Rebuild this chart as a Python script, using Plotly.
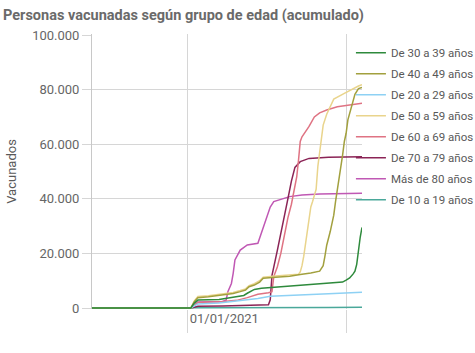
import plotly.graph_objects as go

# ---------------- data ----------------
fechas_30_39 = ["2020-11-08", "2021-01-03", "2021-01-05", "2021-01-07", "2021-01-19", "2021-01-24",
                "2021-01-29", "2021-02-02", "2021-02-04", "2021-02-06", "2021-02-08", "2021-02-12",
                "2021-02-20", "2021-02-26", "2021-03-04", "2021-03-12", "2021-03-22", "2021-03-30",
                "2021-04-01", "2021-04-03", "2021-04-05", "2021-04-06", "2021-04-07", "2021-04-08",
                "2021-04-09", "2021-04-10"]
vac_30_39 = [0, 0, 1800, 2900, 3100, 3600, 4000, 4600, 5400, 6000, 6800, 7200, 7600, 7800, 8200,
             8600, 9100, 9500, 10200, 11000, 12500, 13500, 16000, 22000, 26000, 29500]

fechas_40_49 = ["2020-11-08", "2021-01-03", "2021-01-05", "2021-01-07", "2021-01-13", "2021-01-19",
                "2021-01-23", "2021-01-27", "2021-01-31", "2021-02-03", "2021-02-05", "2021-02-08",
                "2021-02-11", "2021-02-13", "2021-02-20", "2021-02-28", "2021-03-06", "2021-03-12",
                "2021-03-17", "2021-03-19", "2021-03-20", "2021-03-21", "2021-03-23", "2021-03-25",
                "2021-03-26", "2021-03-28", "2021-03-29", "2021-03-30", "2021-03-31", "2021-04-01",
                "2021-04-02", "2021-04-04", "2021-04-06", "2021-04-08", "2021-04-10"]
vac_40_49 = [0, 0, 2300, 3800, 4100, 4500, 4900, 5300, 6000, 6600, 7800, 8400, 9500, 10900, 11300,
             11600, 12300, 12800, 13500, 15500, 19000, 23000, 28000, 34000, 39000, 47000, 51000,
             56000, 61000, 64000, 68900, 74000, 78300, 80400, 80800]

fechas_20_29 = ["2020-11-08", "2021-01-03", "2021-01-05", "2021-01-07", "2021-01-19", "2021-01-31",
                "2021-02-10", "2021-02-17", "2021-03-04", "2021-03-22", "2021-04-10"]
vac_20_29 = [0, 0, 800, 1500, 1800, 2600, 3500, 4300, 4600, 5200, 5800]

fechas_50_59 = ["2020-11-08", "2021-01-03", "2021-01-05", "2021-01-07", "2021-01-13", "2021-01-19",
                "2021-01-23", "2021-01-27", "2021-01-31", "2021-02-03", "2021-02-05", "2021-02-08",
                "2021-02-11", "2021-02-13", "2021-02-20", "2021-02-28", "2021-03-05", "2021-03-06",
                "2021-03-07", "2021-03-08", "2021-03-10", "2021-03-12", "2021-03-13", "2021-03-15",
                "2021-03-16", "2021-03-18", "2021-03-19", "2021-03-21", "2021-03-22", "2021-03-25",
                "2021-03-31", "2021-04-04", "2021-04-08", "2021-04-10"]
vac_50_59 = [0, 0, 2600, 4200, 4500, 4900, 5300, 5700, 6400, 7000, 8200, 8900, 10000, 11300, 11700,
             12000, 12400, 13200, 15500, 19000, 28500, 37000, 39000, 43500, 52000, 62500, 67000,
             71000, 72500, 76500, 78600, 80100, 81300, 81800]

fechas_60_69 = ["2020-11-08", "2021-01-03", "2021-01-05", "2021-01-07", "2021-01-20", "2021-01-29",
                "2021-02-04", "2021-02-10", "2021-02-16", "2021-02-18", "2021-02-19", "2021-02-21",
                "2021-02-23", "2021-02-25", "2021-02-27", "2021-03-01", "2021-03-02", "2021-03-04",
                "2021-03-05", "2021-03-06", "2021-03-07", "2021-03-09", "2021-03-11", "2021-03-14",
                "2021-03-17", "2021-03-21", "2021-03-27", "2021-04-10"]
vac_60_69 = [0, 0, 1000, 2000, 2300, 2800, 3800, 5000, 5600, 6000, 11500, 15000, 20000, 27000,
             33000, 38000, 41000, 48000, 54000, 61000, 62700, 64500, 66500, 70000, 71500, 72500,
             73700, 75000]

fechas_70_79 = ["2020-11-08", "2021-01-03", "2021-01-05", "2021-01-07", "2021-01-21", "2021-01-31",
                "2021-02-10", "2021-02-16", "2021-02-17", "2021-02-18", "2021-02-21", "2021-02-24",
                "2021-02-25", "2021-02-26", "2021-02-27", "2021-03-01", "2021-03-03", "2021-03-06",
                "2021-03-11", "2021-03-22", "2021-04-10"]
vac_70_79 = [0, 0, 300, 600, 700, 900, 1100, 1200, 3000, 12000, 21000, 30000, 33000, 37000, 40000,
             46500, 51500, 53600, 54800, 55200, 55400]

fechas_80 = ["2020-11-08", "2021-01-03", "2021-01-05", "2021-01-07", "2021-01-21", "2021-01-23",
             "2021-01-24", "2021-01-26", "2021-01-27", "2021-01-28", "2021-01-31", "2021-02-04",
             "2021-02-10", "2021-02-11", "2021-02-12", "2021-02-14", "2021-02-16", "2021-02-17",
             "2021-02-19", "2021-02-23", "2021-02-28", "2021-03-07", "2021-03-17", "2021-04-10"]
vac_80 = [0, 0, 1000, 2200, 2400, 2900, 6000, 9000, 12700, 17600, 21200, 23100, 23700, 25500,
          27500, 31000, 34700, 37000, 39000, 39800, 40800, 41400, 41800, 42000]

fechas_10_19 = ["2020-11-08", "2021-01-03", "2021-01-07", "2021-02-10", "2021-03-22", "2021-04-10"]
vac_10_19 = [0, 0, 50, 100, 200, 300]

series = [
    ("De 30 a 39 años", fechas_30_39, vac_30_39, "#2e8a3c"),
    ("De 40 a 49 años", fechas_40_49, vac_40_49, "#a2a03e"),
    ("De 20 a 29 años", fechas_20_29, vac_20_29, "#8ed1f4"),
    ("De 50 a 59 años", fechas_50_59, vac_50_59, "#e9d48c"),
    ("De 60 a 69 años", fechas_60_69, vac_60_69, "#df7383"),
    ("De 70 a 79 años", fechas_70_79, vac_70_79, "#8b2456"),
    ("Más de 80 años", fechas_80, vac_80, "#c058b4"),
    ("De 10 a 19 años", fechas_10_19, vac_10_19, "#4aa89a"),
]

y_ticks = [0, 20000, 40000, 60000, 80000, 100000]
y_labels = ["0", "20.000", "40.000", "60.000", "80.000", "100.000"]
x_ticks = ["2021-01-01", "2021-04-01"]
x_labels = ["01/01/2021", ""]

# ---------------- figure ----------------
fig = go.Figure()
# drawn in reverse so the first series sits on top; legend order set with legendrank
n = len(series)
for i in range(n - 1, -1, -1):
    name, x, y, color = series[i]
    fig.add_trace(go.Scatter(x=x, y=y, mode="lines", name=name, legendgroup=name,
                             legendrank=i + 1, line=dict(color=color, width=1.5)))

grid = "#d6d6d6"
font_fam = "Roboto, Liberation Sans, sans-serif"

fig.update_layout(
    width=475, height=353,
    margin=dict(l=92, r=113, t=34, b=44, autoexpand=False),
    paper_bgcolor="white", plot_bgcolor="white",
    font=dict(family=font_fam, size=13, color="#595959"),
    title=dict(text="<b>Personas vacunadas según grupo de edad (acumulado)</b>",
               x=3 / 475, xanchor="left", xref="container",
               y=1 - 14.5 / 353, yanchor="middle", yref="container",
               font=dict(family=font_fam, size=14.5, color="#6a6a6a")),
    showlegend=True,
    legend=dict(traceorder="grouped", tracegroupgap=2.0,
                x=0.959, xanchor="left", y=0.985, yanchor="top",
                font=dict(family=font_fam, size=11.5, color="#595959"),
                bgcolor="rgba(0,0,0,0)"),
    xaxis=dict(range=["2020-11-08", "2021-04-10"], tickmode="array",
               tickvals=x_ticks, ticktext=x_labels, showgrid=True, gridcolor=grid,
               ticks="outside", ticklen=23, tickcolor=grid, tickwidth=1,
               showline=False, zeroline=False, ticklabelshift=37, ticklabelstandoff=-26,
               tickfont=dict(family=font_fam, size=13, color="#666666")),
    yaxis=dict(range=[-366, 100366], tickmode="array", tickvals=y_ticks, ticktext=y_labels,
               showgrid=True, gridcolor=grid, ticks="outside", ticklen=9, tickcolor=grid,
               showline=True, linecolor="#c8c8c8", linewidth=1, zeroline=False,
               tickfont=dict(family=font_fam, size=13, color="#666666"),
               title=dict(text="Vacunados", standoff=12,
                          font=dict(family=font_fam, size=13, color="#595959"))),
)

fig.write_html("out.html")
